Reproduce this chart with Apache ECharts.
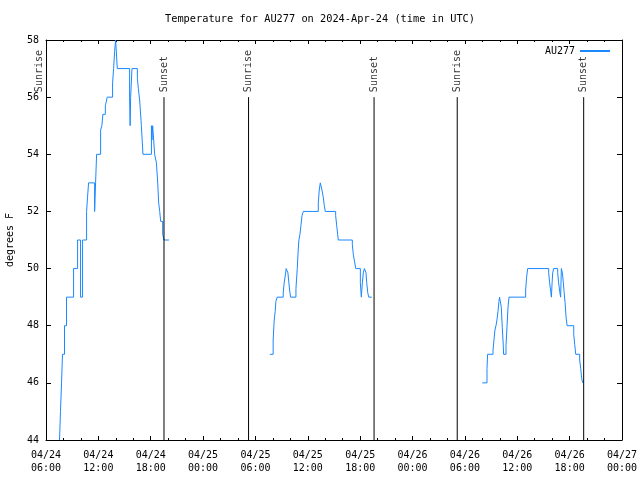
<!DOCTYPE html>
<html><head><meta charset="utf-8">
<script src="https://cdn.jsdelivr.net/npm/echarts@6/dist/echarts.min.js"></script>
<style>html,body{margin:0;padding:0;background:#fff}#c{width:640px;height:480px}</style>
</head><body><div id="c"></div>
<script>
// hours since 2024-04-24 00:00 UTC
const seg1T = [7.55,7.66,7.78,7.89,8.12,8.35,9.16,9.62,9.96,10.19,10.65,10.76,10.88,11.57,11.68,11.80,12.26,12.40,12.52,12.80,13.02,13.63,13.75,13.86,13.98,14.17,15.58,15.64,15.70,15.85,16.47,16.58,16.73,16.81,16.93,17.02,17.11,18.08,18.14,18.22,18.34,18.45,18.65,18.80,18.91,19.03,19.14,19.37,19.52,20.09];
const seg1V = [44,45,46,47,48,49,50,51,49,51,52,52.5,53,52,53,54,54.85,55,55.4,55.7,56,56.5,57,57.6,58,57,56,55,56,57,56.66,56.3,55.9,55.55,55,54.5,54,55,54.5,55,54.5,54,53.7,53,52.3,52,51.65,51.2,51,51];
const seg2T = [31.65,32.03,32.15,32.26,32.34,32.49,33.18,33.29,33.46,33.52,33.72,33.83,33.95,34.03,34.64,34.79,34.90,34.98,35.10,35.21,35.33,35.48,37.20,37.31,37.43,37.62,37.77,37.89,38.00,39.19,39.31,39.42,39.49,41.10,41.21,41.38,41.49,42.02,42.13,42.25,42.36,42.48,42.67,42.75,42.87,42.98,43.33];
const seg2V = [47,47.5,48.2,48.5,48.85,49,49.15,49.5,49.85,50,49.85,49.5,49.15,49,49.3,50,50.65,51,51.2,51.5,51.85,52,52.3,52.75,53,52.75,52.5,52.2,52,51.85,51.5,51.2,51,50.85,50.5,50.2,50,49.5,49,49.5,49.85,50,49.85,49.5,49.15,49,49];
const seg3T = [55.99,56.53,56.60,57.22,57.33,57.44,57.56,57.67,57.79,57.90,57.97,58.17,58.28,58.40,58.43,58.71,58.82,58.94,59.05,60.96,61.07,61.19,63.60,63.71,63.83,63.91,63.99,64.06,64.17,64.63,64.74,64.86,64.97,65.05,65.17,65.28,65.36,65.48,65.59,65.71,66.47,66.58,66.70,67.15,67.27,67.38,67.50,67.58];
const seg3V = [46,46.5,47,47.15,47.5,47.85,48,48.2,48.5,48.85,49,48.65,47.95,47.3,47,47.3,47.95,48.65,49,49.25,49.7,50,49.85,49.5,49.2,49,49.5,49.85,50,49.85,49.5,49.2,49,50,49.85,49.5,49.2,48.8,48.3,48,47.7,47.35,47,46.8,46.5,46.15,46,46];
const sunTimes = [5.25,19.52,29.21,43.59,53.12,67.61];
const sunLabels = ['Sunrise','Sunset','Sunrise','Sunset','Sunrise','Sunset'];
const sunLineBottom = 44, sunLineTop = 56;
const seriesName = 'AU277';
const titleText = 'Temperature for AU277 on 2024-Apr-24 (time in UTC)';
const yName = 'degrees F';

const FONT = 'DejaVu Sans Mono';
const BLUE = '#1a88ff';
const tempSeries = [[seg1T,seg1V],[seg2T,seg2V],[seg3T,seg3V]].map(s=>({
  name:seriesName,type:'line',step:'end',symbol:'none',showSymbol:false,
  data:s[0].map((t,j)=>[t,s[1][j]]),
  lineStyle:{color:BLUE,width:1},itemStyle:{color:BLUE}
}));
const sunLineSeries = sunTimes.map(t=>({
  name:'sun',type:'line',symbol:'none',clip:false,silent:true,
  data:[[t,sunLineBottom],[t,sunLineTop]],lineStyle:{color:'#000',width:1}
}));
const sunLabelData = sunTimes.map((t,i)=>({name:sunLabels[i], value:[t,sunLineTop]}));

function fmtX(h){
  const d = 24 + Math.floor(h/24);
  const hh = h % 24;
  const p = n => (n<10?'0':'')+n;
  return '04/'+p(d)+'\n'+p(hh)+':00';
}
const chart = echarts.init(document.getElementById('c'), null, {renderer:'canvas'});
chart.setOption({
  animation:false,
  backgroundColor:'#fff',
  title:{text:titleText,left:'center',top:9,textStyle:{fontFamily:FONT,fontSize:10.3,fontWeight:'normal',color:'#000'}},
  legend:{data:[seriesName],right:24,top:41,align:'right',itemWidth:30,itemHeight:2,
    textStyle:{fontFamily:FONT,fontSize:10,color:'#000'}},
  grid:{left:46,right:18,top:40,bottom:40,outerBoundsMode:'none',containLabel:false},
  xAxis:[{type:'value',min:6,max:72,interval:6,
    axisLine:{lineStyle:{color:'#000',width:1}},
    axisTick:{inside:true,length:4,lineStyle:{color:'#000'}},
    minorTick:{show:true,splitNumber:3,length:2,lineStyle:{color:'#000'}},
    splitLine:{show:false},
    axisLabel:{formatter:fmtX,fontFamily:FONT,fontSize:10,color:'#000',margin:9,lineHeight:13,showMinLabel:true,showMaxLabel:true}},
   {type:'value',position:'top',min:6,max:72,interval:6,
    axisLine:{lineStyle:{color:'#000'}},
    axisTick:{inside:true,length:4,lineStyle:{color:'#000'}},
    minorTick:{show:true,splitNumber:3,length:2,lineStyle:{color:'#000'}},
    splitLine:{show:false},axisLabel:{show:false}}],
  yAxis:[{type:'value',min:44,max:58,interval:2,name:yName,nameLocation:'middle',nameGap:31,nameRotate:90,
    nameTextStyle:{fontFamily:FONT,fontSize:10,color:'#000'},
    axisLine:{show:true,lineStyle:{color:'#000'}},
    axisTick:{show:true,inside:true,length:5,lineStyle:{color:'#000'}},
    splitLine:{show:false},
    axisLabel:{fontFamily:FONT,fontSize:10,color:'#000',margin:7}},
   {type:'value',position:'right',min:44,max:58,interval:2,
    axisLine:{show:true,lineStyle:{color:'#000'}},
    axisTick:{show:true,inside:true,length:5,lineStyle:{color:'#000'}},
    splitLine:{show:false},axisLabel:{show:false}}],
  series:[].concat(tempSeries, sunLineSeries, [
    {name:'sunlabels',type:'scatter',data:sunLabelData,symbolSize:0,clip:false,silent:true,
      label:{show:true,formatter:'{b}',rotate:90,position:'top',distance:5,align:'left',verticalAlign:'middle',
        fontFamily:FONT,fontSize:10,color:'#000'}}
  ])
});
</script></body></html>
